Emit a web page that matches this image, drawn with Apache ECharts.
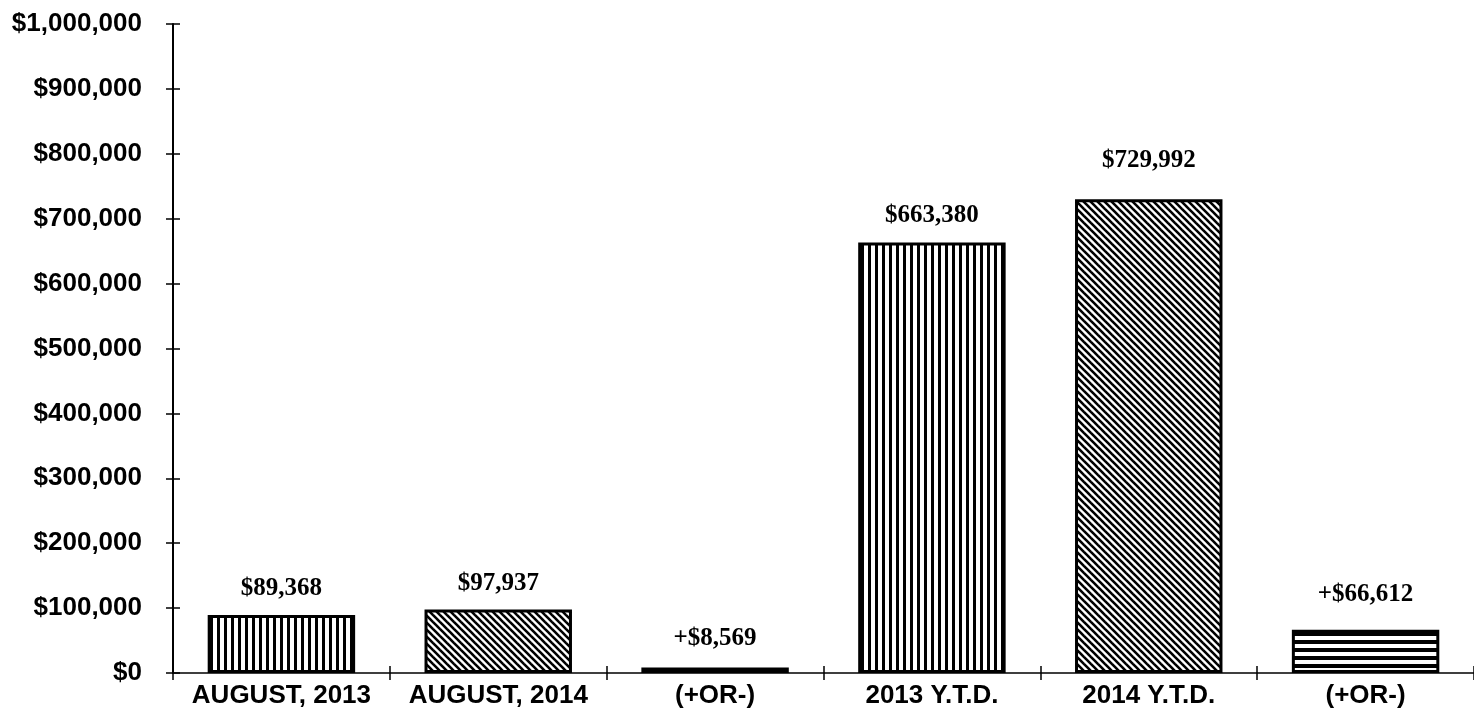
<!DOCTYPE html>
<html>
<head>
<meta charset="utf-8">
<script src="https://cdn.jsdelivr.net/npm/echarts@6/dist/echarts.min.js"></script>
<style>
html,body{margin:0;padding:0;background:#fff;}
#chart{width:1474px;height:718px;}
</style>
</head>
<body>
<div id="chart"></div>
<script>
const categories = ['AUGUST, 2013', 'AUGUST, 2014', '(+OR-)', '2013 Y.T.D.', '2014 Y.T.D.', '(+OR-)'];
const values = [89368, 97937, 8569, 663380, 729992, 66612];
const valueLabels = ['$89,368', '$97,937', '+$8,569', '$663,380', '$729,992', '+$66,612'];
const patterns = ['vertical', 'diagonal', 'horizontal', 'vertical', 'diagonal', 'horizontal'];
const labelGaps = [14, 13, 16, 14, 26, 23];
const yMin = 0, yMax = 1000000, yStep = 100000;

function makePattern(type) {
  const c = document.createElement('canvas');
  const ctx = c.getContext('2d');
  if (type === 'vertical') {
    c.width = 7; c.height = 7;
    ctx.fillStyle = '#fff'; ctx.fillRect(0, 0, 7, 7);
    ctx.fillStyle = '#000'; ctx.fillRect(0, 0, 3, 7);
  } else if (type === 'horizontal') {
    c.width = 8; c.height = 8;
    ctx.fillStyle = '#fff'; ctx.fillRect(0, 0, 8, 8);
    ctx.fillStyle = '#000'; ctx.fillRect(0, 0, 8, 4);
  } else {
    const s = 7;
    c.width = s; c.height = s;
    ctx.fillStyle = '#fff'; ctx.fillRect(0, 0, s, s);
    ctx.strokeStyle = '#000'; ctx.lineWidth = 2.6;
    for (let k = -1; k <= 1; k++) {
      ctx.beginPath();
      ctx.moveTo(k * s - 1, -1);
      ctx.lineTo(k * s + s + 1, s + 1);
      ctx.stroke();
    }
  }
  return { image: c, repeat: 'repeat' };
}

const chart = echarts.init(document.getElementById('chart'), null, { renderer: 'canvas' });
const axisFont = { fontFamily: '"Liberation Sans", Arial, sans-serif', fontWeight: 'bold', color: '#000' };

const option = {
  backgroundColor: '#fff',
  animation: false,
  grid: { left: 173, right: 0, top: 24, bottom: 45, containLabel: false },
  xAxis: [
    {
      type: 'category',
      data: categories,
      boundaryGap: true,
      axisLine: { show: true, lineStyle: { color: '#000', width: 1.5 } },
      axisTick: { show: true, length: 7, lineStyle: { color: '#000', width: 1.5 } },
      axisLabel: Object.assign({ fontSize: 26, margin: 10, interval: 0 }, axisFont),
      splitLine: { show: false }
    },
    {
      type: 'category',
      data: categories,
      position: 'bottom',
      boundaryGap: true,
      axisLine: { show: false },
      axisTick: { show: true, inside: true, length: 7, lineStyle: { color: '#000', width: 1.5 } },
      axisLabel: { show: false },
      splitLine: { show: false }
    }
  ],
  yAxis: [
    {
      type: 'value',
      min: yMin, max: yMax, interval: yStep,
      axisLine: { show: true, lineStyle: { color: '#000', width: 2 } },
      axisTick: { show: true, length: 7, lineStyle: { color: '#000', width: 1.5 } },
      axisLabel: Object.assign({
        fontSize: 26, margin: 31,
        formatter: v => '$' + v.toLocaleString('en-US')
      }, axisFont),
      splitLine: { show: false }
    },
    {
      type: 'value',
      position: 'left',
      min: yMin, max: yMax, interval: yStep,
      axisLine: { show: false },
      axisTick: { show: true, inside: true, length: 7, lineStyle: { color: '#000', width: 1.5 } },
      axisLabel: { show: false },
      splitLine: { show: false }
    }
  ],
  series: [
    {
      type: 'bar',
      xAxisIndex: 0,
      yAxisIndex: 0,
      barCategoryGap: '32%',
      data: values.map((v, i) => ({
        value: v,
        itemStyle: { color: makePattern(patterns[i]), borderColor: '#000', borderWidth: 3 },
        label: { distance: labelGaps[i] }
      })),
      label: {
        show: true,
        position: 'top',
        formatter: p => valueLabels[p.dataIndex],
        fontFamily: '"Liberation Serif", "Times New Roman", serif',
        fontWeight: 'bold',
        fontSize: 25,
        color: '#000'
      }
    }
  ]
};
chart.setOption(option);
</script>
</body>
</html>
